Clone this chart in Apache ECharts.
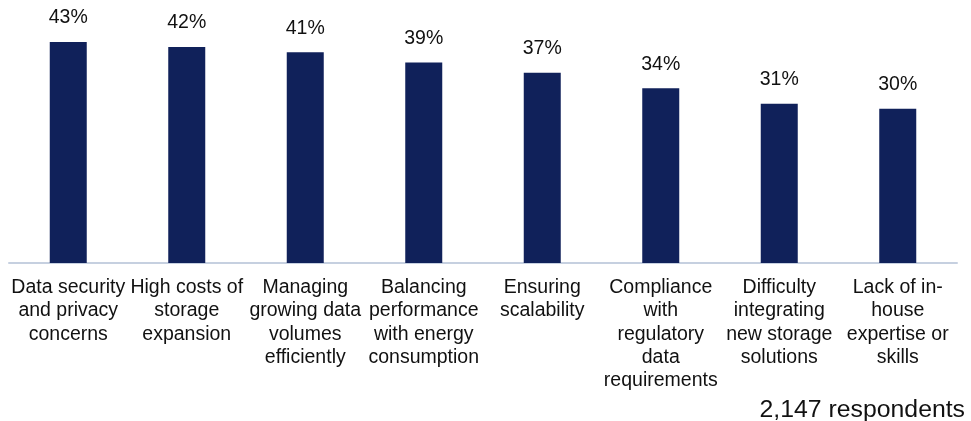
<!DOCTYPE html>
<html>
<head>
<meta charset="utf-8">
<script src="https://cdn.jsdelivr.net/npm/echarts@6/dist/echarts.min.js"></script>
<style>
  html, body { margin: 0; padding: 0; background: #fff; }
  #main { width: 971px; height: 421px; }
</style>
</head>
<body>
<div id="main"></div>
<script>
// 类目与数值
var categories = [
  'Data security\nand privacy\nconcerns',
  'High costs of\nstorage\nexpansion',
  'Managing\ngrowing data\nvolumes\nefficiently',
  'Balancing\nperformance\nwith energy\nconsumption',
  'Ensuring\nscalability',
  'Compliance\nwith\nregulatory\ndata\nrequirements',
  'Difficulty\nintegrating\nnew storage\nsolutions',
  'Lack of in-\nhouse\nexpertise or\nskills'
];
var values = [43, 42, 41, 39, 37, 34, 31, 30];
var note = '2,147 respondents';

var myChart = echarts.init(document.getElementById('main'));

var option = {
  animation: false,
  textStyle: {
    fontFamily: 'Liberation Sans, Arial, sans-serif'
  },
  grid: {
    left: 9,
    right: 14,
    top: 6,
    bottom: 158
  },
  graphic: [{
    type: 'text',
    right: 6,
    top: 398,
    style: {
      text: note,
      fontSize: 24.8,
      fill: '#111',
      fontFamily: 'Liberation Sans, Arial, sans-serif'
    }
  }],
  xAxis: {
    type: 'category',
    data: categories,
    axisTick: { show: false },
    axisLine: {
      lineStyle: { color: '#c6d0e0', width: 2 }
    },
    axisLabel: {
      interval: 0,
      color: '#111',
      fontSize: 19.5,
      lineHeight: 23.3,
      margin: 13
    }
  },
  yAxis: {
    type: 'value',
    min: 0,
    max: 50,
    show: false,
    splitLine: { show: false }
  },
  series: [{
    type: 'bar',
    data: values,
    barWidth: 37,
    itemStyle: { color: '#10215a' },
    label: {
      show: true,
      position: 'top',
      distance: 14,
      formatter: '{c}%',
      color: '#111',
      fontSize: 19.5
    }
  }]
};

myChart.setOption(option);
</script>
</body>
</html>
